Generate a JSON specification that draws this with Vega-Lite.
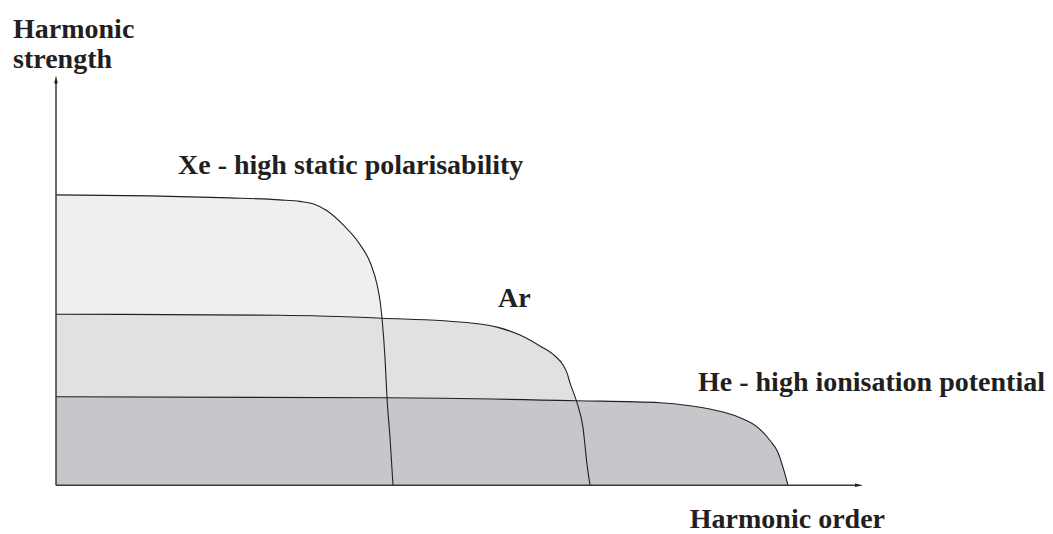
{
  "$schema": "https://vega.github.io/schema/vega-lite/v6.json",
  "width": 1053,
  "height": 534,
  "padding": 0,
  "autosize": {"type": "fit", "contains": "padding"},
  "background": "white",
  "config": {"view": {"stroke": null}},
  "datasets": {
    "curves": [
      {"gas": "Xe", "order": 0, "strength": 292},
      {"gas": "Xe", "order": 94, "strength": 291},
      {"gas": "Xe", "order": 174, "strength": 289},
      {"gas": "Xe", "order": 224, "strength": 287},
      {"gas": "Xe", "order": 244, "strength": 285.5},
      {"gas": "Xe", "order": 257, "strength": 283},
      {"gas": "Xe", "order": 271, "strength": 276},
      {"gas": "Xe", "order": 287, "strength": 262},
      {"gas": "Xe", "order": 304, "strength": 242},
      {"gas": "Xe", "order": 315, "strength": 222},
      {"gas": "Xe", "order": 321, "strength": 202},
      {"gas": "Xe", "order": 324.5, "strength": 182},
      {"gas": "Xe", "order": 326, "strength": 168},
      {"gas": "Xe", "order": 329, "strength": 128},
      {"gas": "Xe", "order": 331, "strength": 88},
      {"gas": "Xe", "order": 334, "strength": 48},
      {"gas": "Xe", "order": 337, "strength": 0},
      {"gas": "Ar", "order": 0, "strength": 172},
      {"gas": "Ar", "order": 224, "strength": 171},
      {"gas": "Ar", "order": 326, "strength": 168},
      {"gas": "Ar", "order": 417, "strength": 163},
      {"gas": "Ar", "order": 441, "strength": 159},
      {"gas": "Ar", "order": 464, "strength": 151},
      {"gas": "Ar", "order": 484, "strength": 140},
      {"gas": "Ar", "order": 499, "strength": 130},
      {"gas": "Ar", "order": 507, "strength": 121},
      {"gas": "Ar", "order": 511, "strength": 113},
      {"gas": "Ar", "order": 514, "strength": 103},
      {"gas": "Ar", "order": 521, "strength": 83},
      {"gas": "Ar", "order": 527, "strength": 58},
      {"gas": "Ar", "order": 531, "strength": 21},
      {"gas": "Ar", "order": 534, "strength": 0},
      {"gas": "He", "order": 0, "strength": 89},
      {"gas": "He", "order": 331, "strength": 88},
      {"gas": "He", "order": 521, "strength": 85},
      {"gas": "He", "order": 604, "strength": 83},
      {"gas": "He", "order": 634, "strength": 80},
      {"gas": "He", "order": 657, "strength": 76},
      {"gas": "He", "order": 684, "strength": 68},
      {"gas": "He", "order": 702, "strength": 58},
      {"gas": "He", "order": 714, "strength": 45},
      {"gas": "He", "order": 722, "strength": 33},
      {"gas": "He", "order": 727, "strength": 18},
      {"gas": "He", "order": 732, "strength": 0}
    ],
    "labels": [
      {"label": "Harmonic", "x": -43, "y": 450},
      {"label": "strength", "x": -43, "y": 420},
      {"label": "Xe - high static polarisability", "x": 122, "y": 313},
      {"label": "Ar", "x": 442, "y": 179},
      {"label": "He - high ionisation potential", "x": 642, "y": 95}
    ],
    "labelsRight": [
      {"label": "Harmonic order", "x": 829, "y": -43}
    ],
    "axes": [
      {"axis": "y", "x1": 0, "y1": 0, "x2": 0, "y2": 405},
      {"axis": "x", "x1": 0, "y1": 0, "x2": 800, "y2": 0}
    ],
    "arrowsUp": [{"x": 0, "y": 408}],
    "arrowsRight": [{"x": 803, "y": 0}]
  },
  "layer": [
    {
      "data": {"name": "curves"},
      "transform": [{"filter": "datum.gas === 'Xe'"}],
      "mark": {"type": "area", "color": "#eeeff1", "interpolate": "monotone"},
      "encoding": {
        "x": {"field": "order", "type": "quantitative", "scale": {"domain": [-56, 997], "nice": false, "zero": false}, "axis": null},
        "y": {"field": "strength", "type": "quantitative", "scale": {"domain": [-46, 488], "nice": false, "zero": false}, "axis": null},
        "y2": {"datum": 0}
      }
    },
    {
      "data": {"name": "curves"},
      "transform": [{"filter": "datum.gas === 'Ar'"}],
      "mark": {"type": "area", "color": "#e0e1e3", "interpolate": "monotone"},
      "encoding": {
        "x": {"field": "order", "type": "quantitative"},
        "y": {"field": "strength", "type": "quantitative"},
        "y2": {"datum": 0}
      }
    },
    {
      "data": {"name": "curves"},
      "transform": [{"filter": "datum.gas === 'He'"}],
      "mark": {"type": "area", "color": "#c6c7ca", "interpolate": "monotone"},
      "encoding": {
        "x": {"field": "order", "type": "quantitative"},
        "y": {"field": "strength", "type": "quantitative"},
        "y2": {"datum": 0}
      }
    },
    {
      "data": {"name": "curves"},
      "mark": {"type": "line", "color": "#231f20", "strokeWidth": 1.1, "interpolate": "monotone"},
      "encoding": {
        "x": {"field": "order", "type": "quantitative"},
        "y": {"field": "strength", "type": "quantitative"},
        "detail": {"field": "gas"}
      }
    },
    {
      "data": {"name": "axes"},
      "mark": {"type": "rule", "color": "#3a3a3a", "strokeWidth": 1.5},
      "encoding": {
        "x": {"field": "x1", "type": "quantitative"},
        "y": {"field": "y1", "type": "quantitative"},
        "x2": {"field": "x2"},
        "y2": {"field": "y2"}
      }
    },
    {
      "data": {"name": "arrowsUp"},
      "mark": {"type": "point", "shape": "M0,-1L0.45,1L-0.45,1Z", "size": 64, "filled": true, "color": "#231f20", "opacity": 1},
      "encoding": {
        "x": {"field": "x", "type": "quantitative"},
        "y": {"field": "y", "type": "quantitative"}
      }
    },
    {
      "data": {"name": "arrowsRight"},
      "mark": {"type": "point", "shape": "M1,0L-1,0.45L-1,-0.45Z", "size": 64, "filled": true, "color": "#231f20", "opacity": 1},
      "encoding": {
        "x": {"field": "x", "type": "quantitative"},
        "y": {"field": "y", "type": "quantitative"}
      }
    },
    {
      "data": {"name": "labels"},
      "mark": {"type": "text", "font": "Liberation Serif", "fontWeight": "bold", "fontSize": 28, "align": "left", "baseline": "alphabetic", "color": "#231f20"},
      "encoding": {
        "x": {"field": "x", "type": "quantitative"},
        "y": {"field": "y", "type": "quantitative"},
        "text": {"field": "label"}
      }
    },
    {
      "data": {"name": "labelsRight"},
      "mark": {"type": "text", "font": "Liberation Serif", "fontWeight": "bold", "fontSize": 28, "align": "right", "baseline": "alphabetic", "color": "#231f20"},
      "encoding": {
        "x": {"field": "x", "type": "quantitative"},
        "y": {"field": "y", "type": "quantitative"},
        "text": {"field": "label"}
      }
    }
  ]
}
